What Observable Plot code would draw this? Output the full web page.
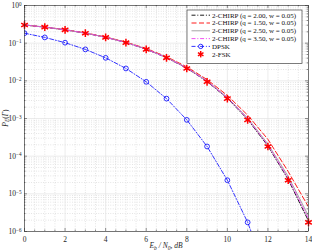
<!DOCTYPE html>
<html>
<head>
<meta charset="utf-8">
<script src="https://cdn.jsdelivr.net/npm/d3@7"></script>
<script src="https://cdn.jsdelivr.net/npm/@observablehq/plot@0.6"></script>
<style>
  html, body { margin: 0; padding: 0; background: #fff; }
  svg { display: block; }
</style>
</head>
<body>
<div id="chart"></div>
<script>
// Eb/N0 grid (dB)
const snr = [0, 1, 2, 3, 4, 5, 6, 7, 8, 9, 10, 11, 12, 13, 14];
const snrDpsk = [0, 1, 2, 3, 4, 5, 6, 7, 8, 9, 10, 11, 12];

// Bit error probability per scheme
const chirpQ200 = [0.303, 0.266, 0.226, 0.184, 0.143, 0.104, 0.0688, 0.0412, 0.0216, 0.0096, 0.00345, 0.00095, 1.86e-4, 2.4e-5, 1.9e-6];
const chirpQ150 = [0.305, 0.268, 0.229, 0.188, 0.146, 0.107, 0.072, 0.0438, 0.0235, 0.0108, 0.0041, 0.00123, 2.8e-4, 3.9e-5, 4.5e-6];
const chirpQ250 = [0.304, 0.267, 0.227, 0.185, 0.144, 0.105, 0.0698, 0.042, 0.0222, 0.0100, 0.00365, 0.00103, 2.1e-4, 2.9e-5, 2.6e-6];
const chirpQ350 = [0.304, 0.267, 0.227, 0.185, 0.143, 0.104, 0.0693, 0.0416, 0.0219, 0.0098, 0.00355, 0.00099, 1.97e-4, 2.6e-5, 2.2e-6];
const dpsk = [0.184, 0.142, 0.103, 0.0683, 0.0408, 0.0213, 0.00942, 0.00337, 9.2e-4, 1.81e-4, 2.3e-5, 1.75e-6, 6.5e-8];
const fsk = [0.303, 0.266, 0.226, 0.184, 0.142, 0.103, 0.0683, 0.0408, 0.0213, 0.00942, 0.00337, 9.2e-4, 1.81e-4, 2.3e-5, 1.75e-6];

// Legend labels
const seriesNames = [
  "2-CHIRP (q = 2.00, w = 0.05)",
  "2-CHIRP (q = 1.50, w = 0.05)",
  "2-CHIRP (q = 2.50, w = 0.05)",
  "2-CHIRP (q = 3.50, w = 0.05)",
  "DPSK",
  "2-FSK"
];

// Axis ticks
const xTicks = [0, 2, 4, 6, 8, 10, 12, 14];
const xMinor = [0.5, 1, 1.5, 2.5, 3, 3.5, 4.5, 5, 5.5, 6.5, 7, 7.5, 8.5, 9, 9.5, 10.5, 11, 11.5, 12.5, 13, 13.5];
const yDecades = [1e-6, 1e-5, 1e-4, 1e-3, 1e-2, 1e-1, 1];
const yMinor = [];
for (let k = -6; k < 0; k++) for (let m = 2; m <= 9; m++) yMinor.push(m * Math.pow(10, k));

const styles = [
  {color: "#000000", dash: "4,1.8,1,1.8", width: 0.9},
  {color: "#ff0000", dash: "5,2.5", width: 0.9},
  {color: "#9a9a9a", dash: null, width: 0.9},
  {color: "#f040f0", dash: "4,1.8,1,1.8", width: 0.9},
  {color: "#0000ff", dash: "4,1.8,1,1.8", width: 0.8},
  {color: "#ff0000", dash: null, width: 0}
];

const pts = (xs, ys) => xs.map((x, i) => ({x, y: ys[i]}));
const chirps = [chirpQ200, chirpQ150, chirpQ250, chirpQ350];

const W = 312, H = 250;
const mTop = 5, mRight = 4, mBottom = 19, mLeft = 24;
const innerW = W - mLeft - mRight, innerH = H - mTop - mBottom;

// tick lengths expressed in data units of each scale
const xPerPx = 14 / innerW;
const yDecPerPx = 6 / innerH;
const up = (v, px) => v * Math.pow(10, px * yDecPerPx);
const down = (v, px) => v / Math.pow(10, px * yDecPerPx);

const axisColor = "#262626";
const serif = "'Liberation Serif', 'Times New Roman', serif";

const chart = Plot.plot({
  width: W,
  height: H,
  marginTop: mTop,
  marginRight: mRight,
  marginBottom: mBottom,
  marginLeft: mLeft,
  style: {fontFamily: serif, fontSize: "7.5px", color: axisColor, background: "#fff"},
  x: {domain: [0, 14]},
  y: {type: "log", domain: [1e-6, 1]},
  marks: [
    // minor grid
    Plot.ruleX(xMinor, {stroke: "#bdbdbd", strokeWidth: 0.5, strokeDasharray: "0.8,1.6"}),
    Plot.ruleY(yMinor, {stroke: "#bdbdbd", strokeWidth: 0.5, strokeDasharray: "0.8,1.6"}),
    // major grid
    Plot.ruleX(xTicks, {stroke: "#e2e2e2", strokeWidth: 0.7}),
    Plot.ruleY(yDecades, {stroke: "#e2e2e2", strokeWidth: 0.7}),
    // chirp curves
    ...chirps.map((ys, i) => Plot.line(pts(snr, ys), {
      x: "x", y: "y", stroke: styles[i].color, strokeWidth: styles[i].width,
      strokeDasharray: styles[i].dash, clip: true
    })),
    // DPSK
    Plot.line(pts(snrDpsk, dpsk), {x: "x", y: "y", stroke: styles[4].color, strokeWidth: styles[4].width, strokeDasharray: styles[4].dash, clip: true}),
    Plot.dot(pts(snrDpsk, dpsk), {x: "x", y: "y", symbol: "circle", r: 2.4, stroke: styles[4].color, strokeWidth: 0.8, fill: "none", clip: true}),
    // 2-FSK markers
    Plot.dot(pts(snr, fsk), {x: "x", y: "y", symbol: "asterisk", r: 3.6, stroke: styles[5].color, strokeWidth: 1.5}),
    // inward ticks (bottom, top, left, right)
    Plot.ruleX(xTicks, {y1: 1e-6, y2: up(1e-6, 3), stroke: axisColor, strokeWidth: 0.5}),
    Plot.ruleX(xTicks, {y1: 1, y2: down(1, 3), stroke: axisColor, strokeWidth: 0.5}),
    Plot.ruleX(xMinor, {y1: 1e-6, y2: up(1e-6, 1.5), stroke: axisColor, strokeWidth: 0.5}),
    Plot.ruleX(xMinor, {y1: 1, y2: down(1, 1.5), stroke: axisColor, strokeWidth: 0.5}),
    Plot.ruleY(yDecades, {x1: 0, x2: 3 * xPerPx, stroke: axisColor, strokeWidth: 0.5}),
    Plot.ruleY(yDecades, {x1: 14, x2: 14 - 3 * xPerPx, stroke: axisColor, strokeWidth: 0.5}),
    Plot.ruleY(yMinor, {x1: 0, x2: 1.5 * xPerPx, stroke: axisColor, strokeWidth: 0.5}),
    Plot.ruleY(yMinor, {x1: 14, x2: 14 - 1.5 * xPerPx, stroke: axisColor, strokeWidth: 0.5}),
    Plot.frame({stroke: axisColor, strokeWidth: 0.6}),
    Plot.axisX({ticks: xTicks, tickSize: 0, tickPadding: 5, label: null}),
    Plot.axisY({ticks: yDecades, tickSize: 0, tickPadding: 3, label: null,
      tickFormat: d => String(Math.round(Math.log10(d)))})
  ]
});

document.getElementById("chart").appendChild(chart);
const svg = d3.select(chart);

// power-of-ten tick labels
svg.selectAll('g[aria-label="y-axis tick label"] text').each(function () {
  const t = d3.select(this);
  const e = t.text().replace("-", "\u2212");
  t.text("10");
  t.append("tspan").attr("dy", "-0.45em").attr("font-size", "5.2px").text(e);
});

// axis titles
const yl = svg.append("text")
  .attr("transform", "rotate(-90)")
  .attr("x", -(mTop + innerH / 2))
  .attr("y", 7.5)
  .attr("text-anchor", "middle")
  .attr("font-family", serif)
  .attr("font-size", "7.5px")
  .attr("fill", axisColor);
yl.append("tspan").attr("font-style", "italic").text("P");
yl.append("tspan").attr("font-style", "italic").attr("font-size", "5.5px").attr("dy", "1.5").text("E");
yl.append("tspan").attr("dy", "-1.5").text("(");
yl.append("tspan").attr("font-style", "italic").text("\u0393");
yl.append("tspan").text(")");

const xl = svg.append("text")
  .attr("x", mLeft + innerW / 2)
  .attr("y", 248)
  .attr("text-anchor", "middle")
  .attr("font-family", serif)
  .attr("font-size", "7.5px")
  .attr("font-style", "italic")
  .attr("fill", axisColor);
xl.append("tspan").text("E");
xl.append("tspan").attr("font-size", "5.5px").attr("dy", "1.5").text("b");
xl.append("tspan").attr("dy", "-1.5").text(" / N");
xl.append("tspan").attr("font-size", "5.5px").attr("dy", "1.5").text("0");
xl.append("tspan").attr("dy", "-1.5").text(", dB");

// legend box in the upper right of the frame
const lg = svg.append("g").attr("font-family", serif).attr("font-size", "7px").attr("text-anchor", "start");
const lx = 187, ly = 10, lw = 115, lh = 53.5, step = 7.8;
lg.append("rect").attr("x", lx).attr("y", ly).attr("width", lw).attr("height", lh)
  .attr("fill", "#fff").attr("stroke", axisColor).attr("stroke-width", 0.6);
seriesNames.forEach((name, i) => {
  const cy = ly + 5.2 + i * step;
  const s = styles[i];
  if (s.width > 0) {
    lg.append("line").attr("x1", lx + 4.5).attr("x2", lx + 23).attr("y1", cy).attr("y2", cy)
      .attr("stroke", s.color).attr("stroke-width", s.width)
      .attr("stroke-dasharray", s.dash);
  }
  if (i === 4) {
    lg.append("circle").attr("cx", lx + 13.7).attr("cy", cy).attr("r", 2.2)
      .attr("fill", "none").attr("stroke", s.color).attr("stroke-width", 0.8);
  }
  if (i === 5) {
    const r = 3.2;
    for (let a = 0; a < 3; a++) {
      const ang = Math.PI / 2 + a * Math.PI / 3;
      lg.append("line")
        .attr("x1", lx + 13.7 - r * Math.cos(ang)).attr("y1", cy - r * Math.sin(ang))
        .attr("x2", lx + 13.7 + r * Math.cos(ang)).attr("y2", cy + r * Math.sin(ang))
        .attr("stroke", s.color).attr("stroke-width", 1.5);
    }
  }
  lg.append("text").attr("x", lx + 25).attr("y", cy).attr("dy", "0.34em")
    .attr("fill", "#111").text(name);
});
</script>
</body>
</html>
